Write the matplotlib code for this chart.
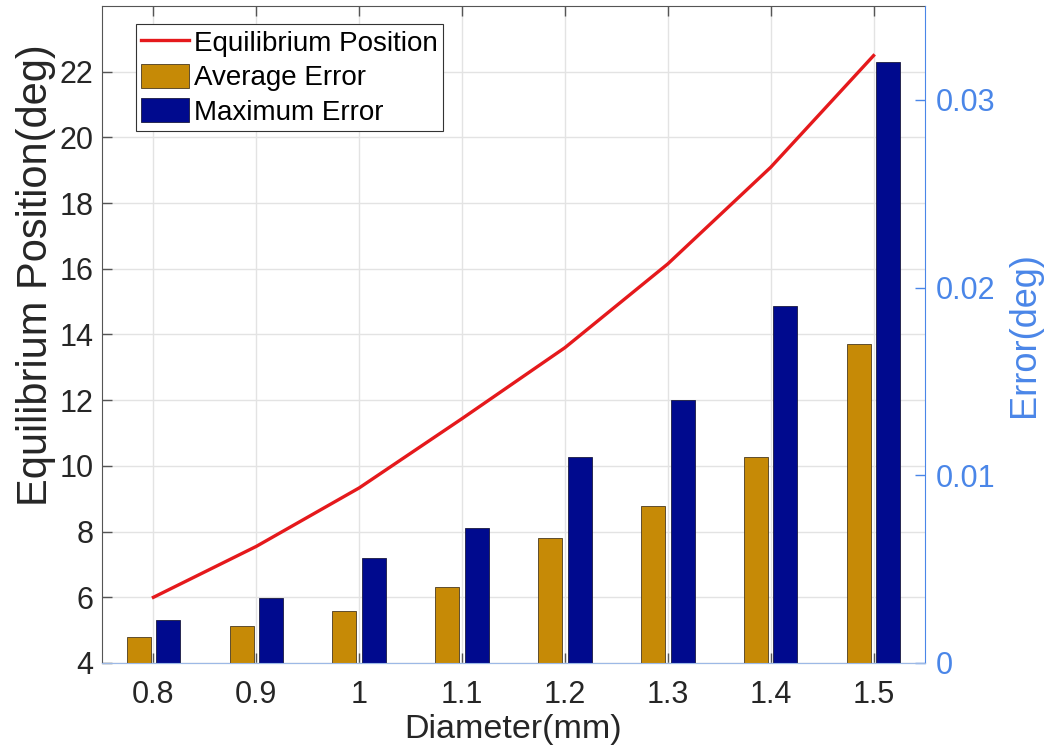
import matplotlib
matplotlib.use("Agg")
import matplotlib.pyplot as plt
from matplotlib.patches import Patch
from matplotlib.lines import Line2D

plt.rcParams['font.family'] = ['Liberation Sans', 'DejaVu Sans']

diameters = [0.8, 0.9, 1.0, 1.1, 1.2, 1.3, 1.4, 1.5]
xtick_labels = ['0.8', '0.9', '1', '1.1', '1.2', '1.3', '1.4', '1.5']
equilibrium = [6.0, 7.55, 9.33, 11.44, 13.6, 16.15, 19.09, 22.49]
avg_error = [0.00137, 0.00197, 0.00277, 0.00407, 0.00668, 0.00836, 0.01097, 0.0170]
max_error = [0.00227, 0.00348, 0.00558, 0.00718, 0.01099, 0.01401, 0.01902, 0.0320]
left_ticks = [4, 6, 8, 10, 12, 14, 16, 18, 20, 22]
right_ticks = [0, 0.01, 0.02, 0.03]
right_tick_labels = ['0', '0.01', '0.02', '0.03']

RED = '#E5191C'
GOLD = '#C68A06'
NAVY = '#000A8E'
BLUE = '#4A86E8'
DARK = '#262626'

fig = plt.figure(figsize=(10.45, 7.55), dpi=100)
ax = fig.add_axes([102/1045, 92/755, 823/1045, 657/755])
ax2 = ax.twinx()

# line on left axis
ax.plot(diameters, equilibrium, color=RED, lw=2.4, zorder=3)
ax.set_xlim(0.75, 1.55)
ax.set_ylim(4, 24)
ax.set_yticks(left_ticks)
ax.set_xticks(diameters)
ax.set_xticklabels(xtick_labels)
ax.grid(True, color='#E3E3E3', lw=1.0)
ax.set_axisbelow(True)

# bars on right axis
off = 0.0143
w = 0.0233
ax2.bar([d - off for d in diameters], avg_error, width=w, color=GOLD,
        edgecolor='#4a3a20', linewidth=0.6, zorder=2)
ax2.bar([d + off for d in diameters], max_error, width=w, color=NAVY,
        edgecolor='#1a1a40', linewidth=0.6, zorder=2)
ax2.set_ylim(0, 0.035)
ax2.set_yticks(right_ticks)
ax2.set_yticklabels(right_tick_labels)

# styling
for s in ['left', 'top']:
    ax.spines[s].set_color('#555555')
ax.spines['bottom'].set_color('#9DB9E6')
ax.spines['right'].set_visible(False)
for s in ['left', 'top']:
    ax2.spines[s].set_visible(False)
ax2.spines['bottom'].set_color('#9DB9E6')
ax2.spines['right'].set_color(BLUE)

ax.tick_params(axis='both', direction='in', length=7, width=1.0,
               colors='#555555', labelcolor=DARK, labelsize=22,
               top=True)
ax.tick_params(axis='y', pad=6)
ax.tick_params(axis='x', pad=12)
ax2.tick_params(axis='y', direction='in', length=7, width=1.0,
                colors=BLUE, labelcolor=BLUE, labelsize=22, pad=8)

ax.set_xlabel('Diameter(mm)', fontsize=24.5, color=DARK, labelpad=3)
ax.set_ylabel('Equilibrium Position(deg)', fontsize=30, color=DARK, labelpad=6)
ax.yaxis.set_label_coords(-0.056, 0.59)
ax2.set_ylabel('Error(deg)', fontsize=26, color=BLUE, labelpad=8)

handles = [Line2D([0], [0], color=RED, lw=2.4),
           Patch(facecolor=GOLD, edgecolor='#4a3a20', linewidth=0.6),
           Patch(facecolor=NAVY, edgecolor='#1a1a40', linewidth=0.6)]
labels = ['Equilibrium Position', 'Average Error', 'Maximum Error']
leg = ax2.legend(handles, labels, loc='upper left', bbox_to_anchor=(0.041, 0.973),
                 fontsize=20, frameon=True, fancybox=False, framealpha=1,
                 edgecolor='#333333', handlelength=1.7, handleheight=0.95,
                 labelspacing=0.25, handletextpad=0.2, borderpad=0.2,
                 borderaxespad=0.0)
leg.get_frame().set_linewidth(0.8)

fig.savefig('out.png', dpi=100)
